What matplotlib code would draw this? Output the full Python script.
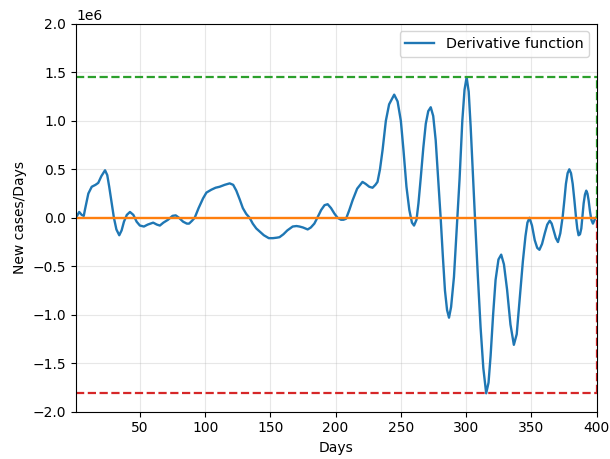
import matplotlib
matplotlib.use("Agg")
import matplotlib.pyplot as plt
import numpy as np

# day numbers and derivative values (in millions of new cases per day)
days = [1, 3.5, 5.4, 7, 8, 10.5, 13.1, 16, 18.1, 20.5, 23.3, 25, 26.5, 28.5, 30.1,
        32, 34.2, 36, 37.8, 40, 42.4, 45, 47.5, 50, 53.1, 56, 60.2, 63, 65.3, 68,
        71.6, 75, 77.5, 80, 83.1, 86, 87.7, 90, 92, 95, 98.4, 101, 104.8, 108,
        111.1, 115, 118.8, 121.5, 123.9, 126.5, 128.9, 131.5, 134.1, 136.5, 139.2,
        141.7, 145, 148.8, 152, 155, 157, 160, 163, 167.1, 170, 172.3, 175, 178.6,
        181, 183.7, 186, 188.9, 191.5, 193.9, 196.5, 199, 201.5, 204.1, 206, 208,
        210.5, 213, 216.5, 220.6, 223, 225.8, 228.3, 230.5, 232.1, 234, 236, 238.5,
        241, 244.9, 247.5, 250, 252, 254.3, 256.5, 258.5, 260.1, 262, 263.5, 265.3,
        267.2, 269.1, 271, 272.9, 274.8, 276.7, 278.5, 280.5, 282.2, 283.8, 285.4,
        286.9, 288.5, 290.7, 292, 293.2, 295, 297.1, 298.8, 300.4, 302, 303.5,
        305.2, 306.8, 309, 311.1, 313.2, 315.4, 317.2, 318.8, 320.7, 322.6, 324.8,
        326.9, 329, 331.4, 334, 336.6, 338.8, 341.7, 343.5, 345.5, 347, 348.6,
        350.5, 352.6, 354.5, 356.2, 358.2, 360.3, 362.2, 364.1, 365.6, 367.1,
        368.8, 370.4, 372.2, 374, 375.3, 376.5, 377.8, 379.1, 380.4, 381.7, 383,
        384.2, 385.2, 386.2, 387.3, 388.3, 389.2, 390.1, 391.1, 392.1, 393, 393.9,
        395, 396, 397.2, 398.5, 399.5]
deriv = [0.0, 0.06, 0.03, 0.02, 0.09, 0.25, 0.32, 0.34, 0.36, 0.43, 0.49, 0.44, 0.32,
         0.14, 0.0, -0.12, -0.18, -0.13, -0.04, 0.03, 0.06, 0.03, -0.04, -0.08, -0.09,
         -0.07, -0.05, -0.07, -0.08, -0.05, -0.02, 0.02, 0.025, 0.0, -0.04, -0.06,
         -0.06, -0.03, 0.0, 0.1, 0.2, 0.26, 0.29, 0.31, 0.32, 0.34, 0.355, 0.34, 0.28,
         0.19, 0.1, 0.04, 0.0, -0.06, -0.11, -0.14, -0.18, -0.21, -0.21, -0.205, -0.2,
         -0.17, -0.13, -0.09, -0.085, -0.09, -0.1, -0.12, -0.1, -0.06, 0.0, 0.08, 0.13,
         0.14, 0.1, 0.045, 0.0, -0.02, -0.02, -0.01, 0.08, 0.18, 0.3, 0.37, 0.35, 0.32,
         0.31, 0.34, 0.37, 0.5, 0.7, 1.0, 1.17, 1.27, 1.2, 1.0, 0.7, 0.32, 0.08, -0.05,
         -0.08, -0.02, 0.15, 0.42, 0.72, 0.97, 1.1, 1.14, 1.05, 0.8, 0.42, 0.0, -0.4,
         -0.75, -0.95, -1.03, -0.92, -0.61, -0.3, 0.0, 0.4, 1.0, 1.32, 1.45, 1.3, 0.94,
         0.45, 0.0, -0.6, -1.13, -1.55, -1.81, -1.7, -1.42, -1.0, -0.64, -0.43, -0.38,
         -0.48, -0.74, -1.1, -1.31, -1.2, -0.74, -0.45, -0.19, -0.05, 0.0, -0.08, -0.23,
         -0.31, -0.33, -0.27, -0.16, -0.07, -0.03, -0.06, -0.13, -0.21, -0.25, -0.16,
         0.01, 0.18, 0.35, 0.46, 0.5, 0.46, 0.35, 0.18, 0.01, -0.11, -0.18, -0.17,
         -0.11, 0.02, 0.15, 0.24, 0.28, 0.25, 0.18, 0.06, -0.02, -0.06, -0.02, 0.0]

x = np.array(days)
y = np.array(deriv) * 1e6
x_start, x_end = 1, 400

fig, ax = plt.subplots(figsize=(6.1, 4.59), dpi=100)
fig.subplots_adjust(left=0.1245, right=0.978, top=0.948, bottom=0.103)

ax.plot(x, y, color="C0", lw=1.7, label="Derivative function")
ax.plot([x_start, x_end], [0, 0], color="C1", lw=1.7)
# max / min guides
ax.plot([x_start, x_end], [y.max(), y.max()], "--", color="C2", lw=1.6)
ax.plot([x_end, x_end], [0, y.max()], "--", color="C2", lw=1.6)
ax.plot([x_start, x_end], [y.min(), y.min()], "--", color="C3", lw=1.6)
ax.plot([x_end, x_end], [y.min(), 0], "--", color="C3", lw=1.6)

ax.set_xlim(x_start, x_end)
ax.set_ylim(-2e6, 2e6)
ax.set_xticks(range(50, 401, 50))
ax.set_yticks(np.arange(-2e6, 2.01e6, 0.5e6))
ax.grid(True, alpha=0.3)
ax.set_xlabel("Days")
ax.set_ylabel("New cases/Days")
ax.legend(loc="upper right", fontsize=10.4)

plt.savefig("out.png")
